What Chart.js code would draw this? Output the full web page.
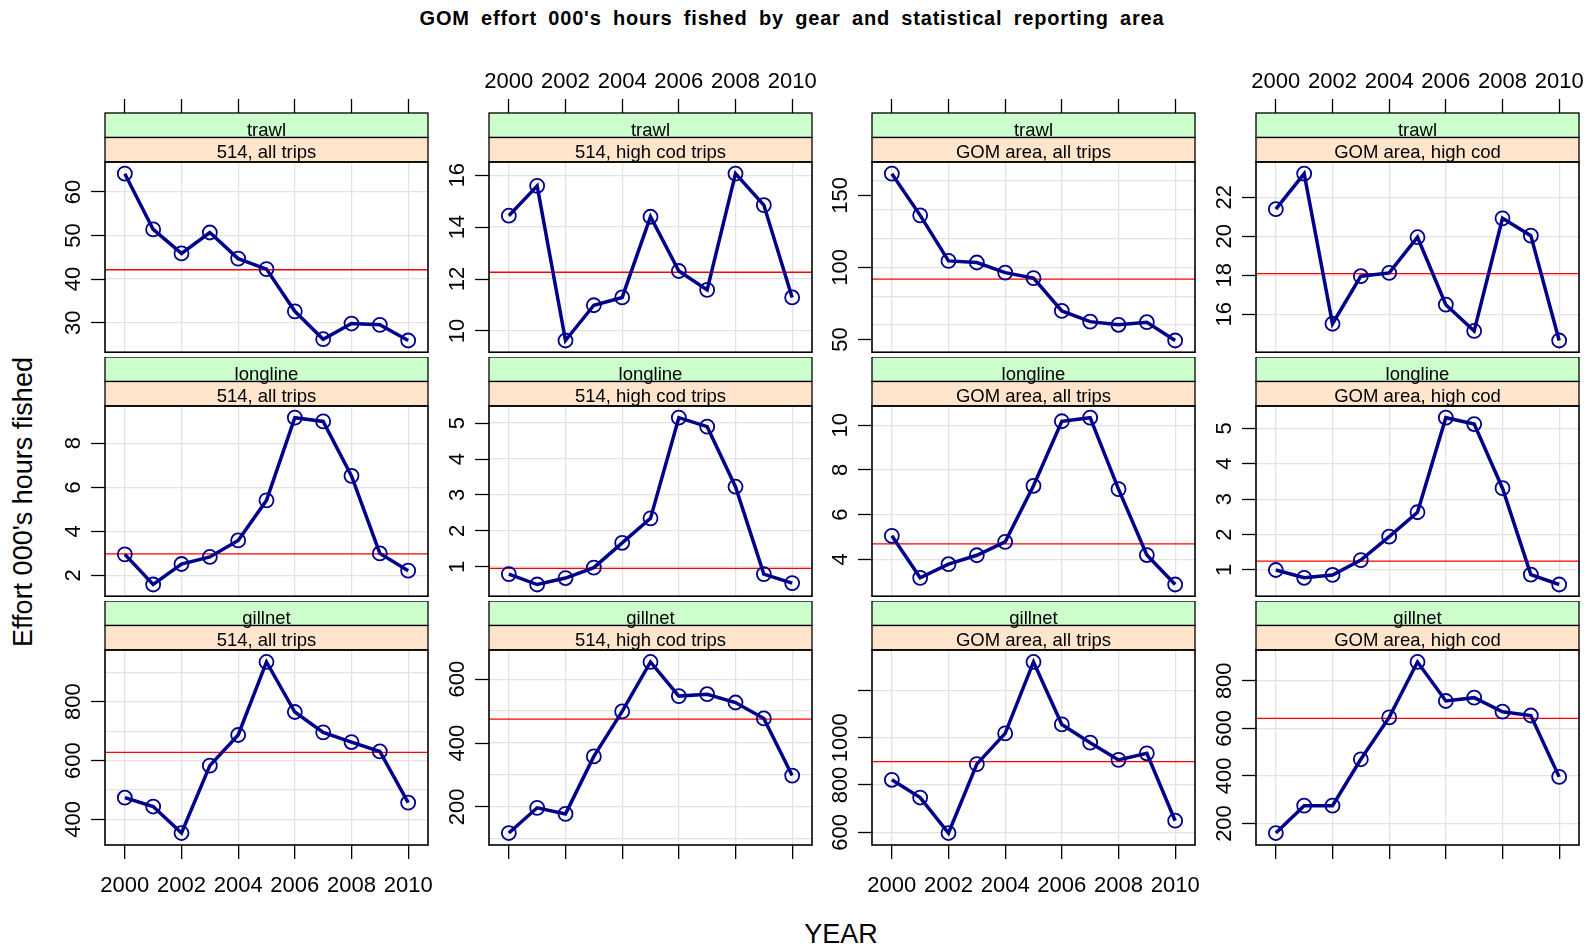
<!DOCTYPE html>
<html>
<head>
<meta charset="utf-8">
<script src="https://cdn.jsdelivr.net/npm/chart.js@4.4.0/dist/chart.umd.min.js"></script>
<style>
  body{margin:0;background:#fff;width:1591px;height:951px;position:relative;overflow:hidden;font-family:"Liberation Sans",Arial,sans-serif;}
  canvas{position:absolute;}
  .lbl{position:absolute;white-space:nowrap;color:#000;transform:translate(-50%,-50%);}
  #title{left:792px;top:18px;font-weight:bold;font-size:20px;letter-spacing:0.8px;word-spacing:5px;}
  #ylab{left:23px;top:502px;font-size:27px;transform:translate(-50%,-50%) rotate(-90deg);}
  #xlab{left:841px;top:934px;font-size:27px;}
</style>
</head>
<body>
<div class="lbl" id="title">GOM effort 000's hours fished by gear and statistical reporting area</div>
<div class="lbl" id="ylab">Effort 000's hours fished</div>
<div class="lbl" id="xlab">YEAR</div>
<script>
// data
let years=[2000,2001,2002,2003,2004,2005,2006,2007,2008,2009,2010];
let xTicks=[2000,2002,2004,2006,2008,2010];
let gears=['trawl','longline','gillnet'];
let areas=['514, all trips','514, high cod trips','GOM area, all trips','GOM area, high cod'];

let trawl514All=[64.2,51.4,45.9,50.7,44.7,42.3,32.6,26.2,29.8,29.5,25.9];
let trawl514High=[14.44,15.59,9.63,10.99,11.29,14.4,12.31,11.58,16.06,14.85,11.29];
let trawlGomAll=[165,136.1,104.5,103.4,96.4,92.6,69.8,62.4,60.2,62,49.3];
let trawlGomHigh=[21.39,23.21,15.51,17.95,18.12,19.95,16.49,15.14,20.92,20.03,14.65];
let longline514All=[2.96,1.59,2.52,2.84,3.59,5.41,9.16,8.99,6.52,3.0,2.22];
let longline514High=[0.8,0.51,0.69,0.98,1.67,2.35,5.15,4.9,3.23,0.8,0.55];
let longlineGomAll=[5.05,3.17,3.78,4.18,4.78,7.29,10.18,10.34,7.14,4.19,2.87];
let longlineGomHigh=[1.0,0.78,0.86,1.28,1.94,2.63,5.3,5.12,3.31,0.87,0.59];
let gillnet514All=[474,444,354,583,687,935,765,696,663,631,457];
let gillnet514High=[118,197,178,358,499,654,547,553,527,477,298];
let gillnetGomAll=[822,747,597,888,1018,1320,1056,979,906,934,649];
let gillnetGomHigh=[160,275,275,470,646,879,715,729,670,654,396];

// red reference lines
let trawlRef=[42.15,12.26,91.9,18.08];
let longlineRef=[2.98,0.96,4.69,1.25];
let gillnetRef=[628,475,899,642];

// y tick marks, tick labels, grid lines
let trawlTicks=[[30,40,50,60],[10,12,14,16],[50,100,150],[16,18,20,22]];
let longlineTicks=[[2,4,6,8],[1,2,3,4,5],[4,6,8,10],[1,2,3,4,5]];
let gillnetTicks=[[400,600,800],[200,400,600],[600,800,1000,1200],[200,400,600,800]];
let gillnetGomAllLabels=['600','800','1000',''];
let trawlGrid=[[30,40,50,60],[10,12,14,16],[60,80,100,120,140,160],[16,18,20,22]];
let longlineGrid=longlineTicks;
let gillnetGrid=[[400,500,600,700,800,900],[100,200,300,400,500,600],[600,800,1000,1200],[200,400,600,800]];

const FONT='"Liberation Sans", Arial, sans-serif';
const colLeft=[105,489,872,1256];
const stripTop=[113,357,601];
const panelW=323, stripH=49, plotH=195;
const YW=70, PADR=35;
const xMin=1999.3, xMax=2010.7;

function panelPlugin(gear,area,yTicks,yLabels,ref){
  return {
    id:'panelDeco',
    beforeDatasetsDraw(chart){
      const {ctx,chartArea:a,scales}=chart;
      const y=scales.y.getPixelForValue(ref);
      ctx.save();
      ctx.strokeStyle='#ff0000';
      ctx.lineWidth=1.4;
      ctx.beginPath();ctx.moveTo(a.left,y);ctx.lineTo(a.right,y);ctx.stroke();
      ctx.restore();
    },
    afterDraw(chart){
      const {ctx,chartArea:a,scales}=chart;
      const h=stripH/2, w=a.right-a.left;
      ctx.save();
      // strips
      ctx.lineWidth=1.3;ctx.strokeStyle='#000';
      ctx.fillStyle='#ccffcc';ctx.fillRect(a.left,a.top-stripH,w,h);ctx.strokeRect(a.left,a.top-stripH,w,h);
      ctx.fillStyle='#ffe5cc';ctx.fillRect(a.left,a.top-h,w,h);ctx.strokeRect(a.left,a.top-h,w,h);
      ctx.fillStyle='#000';ctx.font='18.5px '+FONT;ctx.textAlign='center';ctx.textBaseline='alphabetic';
      ctx.fillText(gear,(a.left+a.right)/2,a.top-h-2);
      ctx.fillText(area,(a.left+a.right)/2,a.top-4);
      // panel frame
      ctx.lineWidth=1.6;
      ctx.strokeRect(a.left,a.top,w,a.bottom-a.top);
      // rotated y tick labels
      ctx.font='22px '+FONT;
      yTicks.forEach((v,i)=>{
        const py=scales.yt.getPixelForValue(v);
        ctx.save();ctx.translate(a.left-25.5,py);ctx.rotate(-Math.PI/2);
        ctx.fillText(yLabels[i],0,0);ctx.restore();
      });
      ctx.restore();
    }
  };
}

function makePanel(r,c,data,yTicks,yLabels,yGrid,ref){
  const cv=document.createElement('canvas');
  const topExtra=r===0?60:0;
  const botExtra=r===2?70:4;
  cv.width=YW+panelW+PADR;
  cv.height=topExtra+stripH+plotH+botExtra;
  cv.style.left=(colLeft[c]-YW)+'px';
  cv.style.top=(stripTop[r]-topExtra)+'px';
  document.body.appendChild(cv);
  const lo=Math.min(...data), hi=Math.max(...data), pad=0.07*(hi-lo);
  const ymin=lo-pad, ymax=hi+pad;
  const setX=s=>{s.ticks=xTicks.map(v=>({value:v}));};
  const tickFont={family:FONT,size:22};
  new Chart(cv,{
    type:'line',
    data:{datasets:[{
      data:years.map((yr,i)=>({x:yr,y:data[i]})),
      borderColor:'#00008b',borderWidth:3.5,tension:0,
      pointRadius:7,pointHoverRadius:7,pointBorderWidth:1.8,
      pointBorderColor:'#00008b',pointBackgroundColor:'rgba(0,0,0,0)'
    }]},
    options:{
      responsive:false,animation:false,events:[],
      layout:{padding:{left:0,right:PADR,top:0,bottom:r===2?0:4}},
      plugins:{legend:{display:false},tooltip:{enabled:false}},
      scales:{
        x:{type:'linear',position:'bottom',min:xMin,max:xMax,afterBuildTicks:setX,
          afterFit:s=>{s.height=r===2?botExtra:0;},
          grid:{color:'#e3e3e3',lineWidth:1.3,drawTicks:r===2,tickLength:14,tickColor:'#000',tickWidth:1.3},
          border:{display:false},
          ticks:{display:r===2&&(c===0||c===2),padding:14,color:'#000',font:tickFont,minRotation:0,maxRotation:0,autoSkip:false,callback:v=>String(v)}},
        x2:{type:'linear',position:'top',min:xMin,max:xMax,afterBuildTicks:setX,
          afterFit:s=>{s.height=topExtra+stripH;},
          grid:{drawOnChartArea:false,drawTicks:r===0,tickLength:stripH+14,tickColor:'#000',tickWidth:1.3},
          border:{display:false},
          ticks:{display:r===0&&(c===1||c===3),padding:4,color:'#000',font:tickFont,minRotation:0,maxRotation:0,autoSkip:false,callback:v=>String(v)}},
        y:{type:'linear',position:'left',min:ymin,max:ymax,weight:0,
          afterBuildTicks:s=>{s.ticks=yGrid.map(v=>({value:v}));},
          afterFit:s=>{s.width=0;},
          grid:{color:'#e3e3e3',lineWidth:1.3,drawTicks:false},
          border:{display:false},ticks:{display:false}},
        yt:{type:'linear',position:'left',min:ymin,max:ymax,weight:1,
          afterBuildTicks:s=>{s.ticks=yTicks.map(v=>({value:v}));},
          afterFit:s=>{s.width=YW;},
          grid:{drawOnChartArea:false,drawTicks:true,tickLength:14,tickColor:'#000',tickWidth:1.3},
          border:{display:false},ticks:{display:false}}
      }
    },
    plugins:[panelPlugin(gears[r],areas[c],yTicks,yLabels,ref)]
  });
}

let rows=[
  [[trawl514All,trawl514High,trawlGomAll,trawlGomHigh],trawlTicks,trawlGrid,trawlRef],
  [[longline514All,longline514High,longlineGomAll,longlineGomHigh],longlineTicks,longlineGrid,longlineRef],
  [[gillnet514All,gillnet514High,gillnetGomAll,gillnetGomHigh],gillnetTicks,gillnetGrid,gillnetRef]
];
rows.forEach(([series,ticks,grid,refs],r)=>{
  series.forEach((d,c)=>{
    let labels=(r===2&&c===2)?gillnetGomAllLabels:ticks[c].map(String);
    makePanel(r,c,d,ticks[c],labels,grid[c],refs[c]);
  });
});
</script>
</body>
</html>
